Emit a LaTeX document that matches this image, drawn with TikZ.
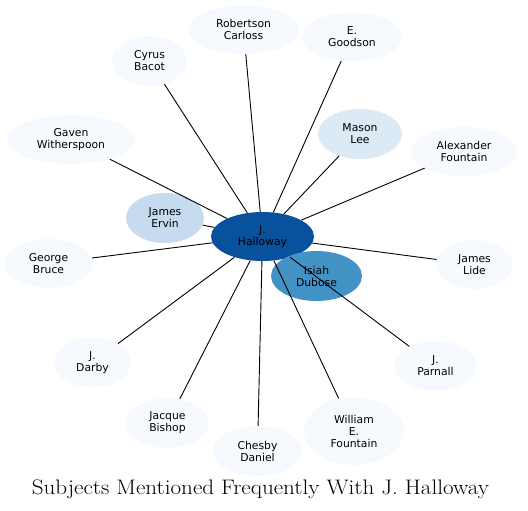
\documentclass[tikz,border=0pt]{standalone}
\usepackage{fontspec}
\usepackage{graphicx}
\newfontfamily\labelfont{DejaVu Sans}
\usetikzlibrary{shapes.geometric}
\definecolor{blueA}{RGB}{8,81,156}
\definecolor{blueB}{RGB}{66,146,198}
\definecolor{blueC}{RGB}{198,219,239}
\definecolor{blueD}{RGB}{220,234,246}
\definecolor{blueE}{RGB}{246,250,255}
\begin{document}
\begin{tikzpicture}[x=1pt, y=-1pt, every node/.style={ellipse, inner sep=0pt, align=center, font=\labelfont\fontsize{10.8}{12}\selectfont},
  person/.style={fill=blueE, minimum width=#1*2pt}, person/.default=42,
  link/.style={draw=black, line width=0.9pt}]
  \useasboundingbox (0,0) rectangle (528,511);
  % hub and the two darker neighbours
  \node[fill=blueA, minimum width=103pt, minimum height=49pt] (halloway) at (262.5,236.5) {J.\\Halloway};
  \node[fill=blueB, minimum width=91pt, minimum height=50pt] (dubose) at (316.5,276) {Isiah\\Dubose};
  \node[fill=blueC, minimum width=78pt, minimum height=50pt] (ervin) at (165,218) {James\\Ervin};
  \node[fill=blueD, minimum width=84pt, minimum height=50pt] (mason) at (360,134) {Mason\\Lee};
  % outer ring
  \node[person=55.5, minimum height=49pt] (carloss) at (243.5,29.5) {Robertson\\Carloss};
  \node[person=50, minimum height=49pt] (goodson) at (352,37) {E.\\Goodson};
  \node[person=37.5, minimum height=50pt] (bacot) at (149.5,61) {Cyrus\\Bacot};
  \node[person=64, minimum height=49pt] (witherspoon) at (71,139.5) {Gaven\\Witherspoon};
  \node[person=53, minimum height=49pt] (afountain) at (464,151.5) {Alexander\\Fountain};
  \node[person=44.5, minimum height=49pt] (bruce) at (48.5,263.5) {George\\Bruce};
  \node[person=38.5, minimum height=49pt] (lide) at (474.5,264.5) {James\\Lide};
  \node[person=38.5, minimum height=50pt] (darby) at (92.5,362.5) {J.\\Darby};
  \node[person=41.5, minimum height=50pt] (parnall) at (435.5,366) {J.\\Parnall};
  \node[person=41.5, minimum height=50pt] (bishop) at (167.5,423) {Jacque\\Bishop};
  \node[person=44.5, minimum height=50pt] (daniel) at (257.5,451) {Chesby\\Daniel};
  \node[person=50, minimum height=68pt] (wfountain) at (354,431) {William\\E.\\Fountain};
  % edges from the hub
  \foreach \other in {ervin, mason, carloss, goodson, bacot, witherspoon, afountain, bruce, lide, darby, parnall, bishop, daniel, wfountain}
    \draw[link] (halloway) -- (\other);
  \node[shape=rectangle, anchor=base, font=\fontsize{21}{24}\selectfont] (title) at (260.5,494) {\scalebox{1.1}[1]{Subjects Mentioned Frequently With J. Halloway}};
\end{tikzpicture}
\end{document}
